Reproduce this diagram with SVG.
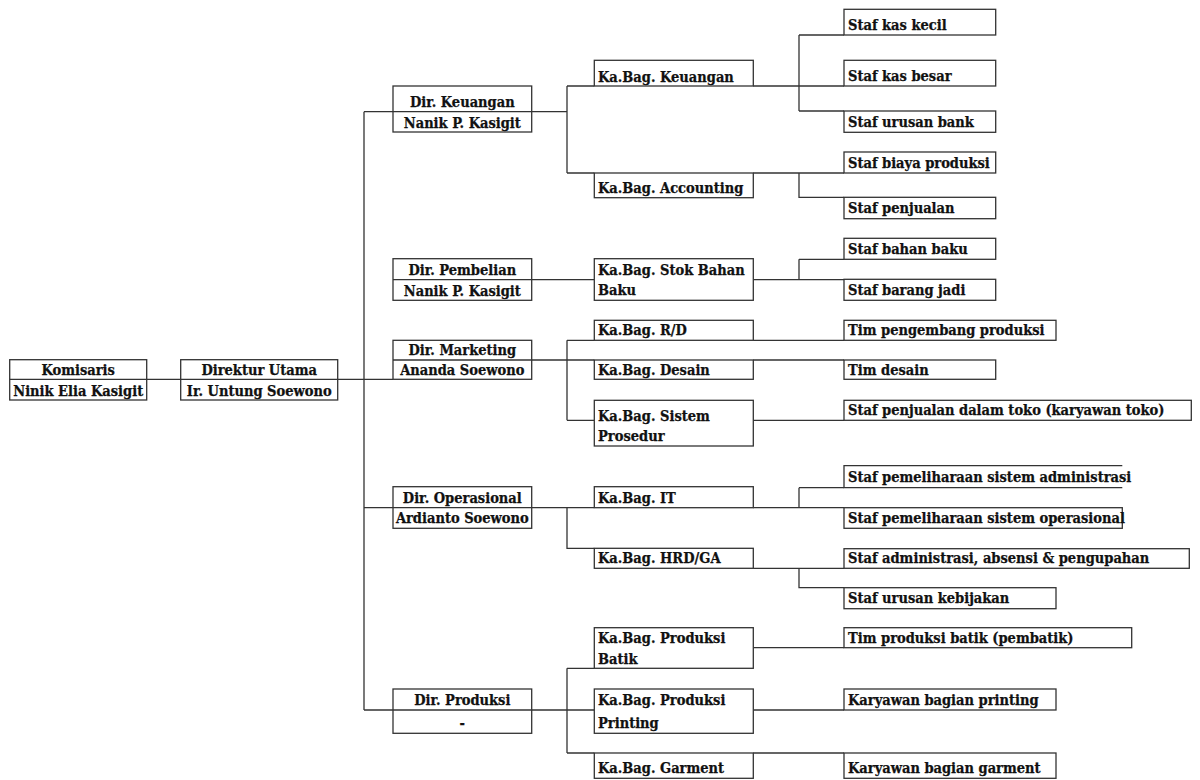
<svg xmlns="http://www.w3.org/2000/svg" width="1200" height="780" viewBox="0 0 1200 780">
<style>
.c{fill:none;stroke:#333;stroke-width:1.3}
.b{fill:#fff;stroke:#333;stroke-width:1.3}
.t{font-family:"DejaVu Serif Condensed","DejaVu Serif",serif;font-stretch:condensed;font-weight:bold;font-size:14.5px;fill:#111;stroke:#111;stroke-width:0.25}
.m{text-anchor:middle}
</style>
<rect width="1200" height="780" fill="#fff"/>
<g id="connectors" class="c">
<path d="M146.7 379.3H181M337.7 379.3H393M364 111.7V710"/>
<path d="M364 111.7H393M531.7 111.7H567M567 86V173M567 86H594.3M753.3 86H844M567 173H594.3M753.3 173H844"/>
<path d="M799 35V111M799 35H844M799 111H844M799 173V197.3H844"/>
<path d="M531.7 279.7H594.3M753.3 279.7H844M799 259.3V279.7M799 259.3H844"/>
<path d="M531.7 360H594.3M753.3 360H844M567 340.3V420.3M567 340.3H594.3M753.3 340.3H844M567 420.3H594.3M753.3 420.3H844"/>
<path d="M364 507.7H393M531.7 507.7H594.3M753.3 507.7H844M799 487.7V507.7M799 487.7H844M567 507.7V548.3H594.3M753.3 568.3H844M799 568.3V587.7H844"/>
<path d="M364 710H393M531.7 710H594.3M753.3 710H844M567 668.3V753M567 668.3H594.3M753.3 647.7H844M567 753H594.3M753.3 753H844"/>
</g>
<g id="komisaris"><rect class="b" x="9.7" y="359.7" width="137" height="40.3"/><path class="c" d="M9.7 379.3H146.7"/><text class="t m" x="78.2" y="375">Komisaris</text><text class="t m" x="78.2" y="395.7">Ninik Elia Kasigit</text></g>
<g id="direktur-utama"><rect class="b" x="180.7" y="359.7" width="157" height="40.3"/><path class="c" d="M180.7 379.3H337.7"/><text class="t m" x="259.2" y="375">Direktur Utama</text><text class="t m" x="259.2" y="395.7">Ir. Untung Soewono</text></g>
<g id="dir-keuangan"><rect class="b" x="393" y="86" width="138.7" height="46"/><path class="c" d="M393 111.7H531.7"/><text class="t m" x="462.3" y="106.7">Dir. Keuangan</text><text class="t m" x="462.3" y="127.7">Nanik P. Kasigit</text></g>
<g id="dir-pembelian"><rect class="b" x="393" y="258.7" width="138.7" height="41.6"/><path class="c" d="M393 279.7H531.7"/><text class="t m" x="462.3" y="275">Dir. Pembelian</text><text class="t m" x="462.3" y="296">Nanik P. Kasigit</text></g>
<g id="dir-marketing"><rect class="b" x="393" y="340.3" width="138.7" height="39"/><path class="c" d="M393 360H531.7"/><text class="t m" x="462.3" y="355">Dir. Marketing</text><text class="t m" x="462.3" y="375">Ananda Soewono</text></g>
<g id="dir-operasional"><rect class="b" x="393" y="486.7" width="138.7" height="41.6"/><path class="c" d="M393 507.7H531.7"/><text class="t m" x="462.3" y="503.3">Dir. Operasional</text><text class="t m" x="462.3" y="523.3">Ardianto Soewono</text></g>
<g id="dir-produksi"><rect class="b" x="393" y="689" width="138.7" height="44.3"/><path class="c" d="M393 710H531.7"/><text class="t m" x="462.3" y="705">Dir. Produksi</text><text class="t m" x="462.3" y="728.3">-</text></g>
<g id="kabag-keuangan"><rect class="b" x="594.3" y="60.3" width="159" height="25.7"/><text class="t" x="598" y="81.7">Ka.Bag. Keuangan</text></g>
<g id="kabag-accounting"><rect class="b" x="594.3" y="173" width="159" height="24.7"/><text class="t" x="598" y="193.3">Ka.Bag. Accounting</text></g>
<g id="kabag-stok"><rect class="b" x="594.3" y="258.7" width="159" height="41.6"/><text class="t" x="598" y="275">Ka.Bag. Stok Bahan</text><text class="t" x="598" y="295.3">Baku</text></g>
<g id="kabag-rd"><rect class="b" x="594.3" y="320.3" width="159" height="20"/><text class="t" x="598" y="335">Ka.Bag. R/D</text></g>
<g id="kabag-desain"><rect class="b" x="594.3" y="360" width="159" height="19.3"/><text class="t" x="598" y="375">Ka.Bag. Desain</text></g>
<g id="kabag-sistem"><rect class="b" x="594.3" y="400.3" width="159" height="45.7"/><text class="t" x="598" y="421">Ka.Bag. Sistem</text><text class="t" x="598" y="441">Prosedur</text></g>
<g id="kabag-it"><rect class="b" x="594.3" y="486.7" width="159" height="21"/><text class="t" x="598" y="503.3">Ka.Bag. IT</text></g>
<g id="kabag-hrd"><rect class="b" x="594.3" y="548.3" width="159" height="20"/><text class="t" x="598" y="562.7">Ka.Bag. HRD/GA</text></g>
<g id="kabag-batik"><rect class="b" x="594.3" y="627.7" width="159" height="40.6"/><text class="t" x="598" y="643.3">Ka.Bag. Produksi</text><text class="t" x="598" y="664.3">Batik</text></g>
<g id="kabag-printing"><rect class="b" x="594.3" y="689" width="159" height="44.3"/><text class="t" x="598" y="705">Ka.Bag. Produksi</text><text class="t" x="598" y="728.3">Printing</text></g>
<g id="kabag-garment"><rect class="b" x="594.3" y="753" width="159" height="25.3"/><text class="t" x="598" y="773.3">Ka.Bag. Garment</text></g>
<g id="staf-kas-kecil"><rect class="b" x="844" y="9.3" width="151.7" height="25.7"/><text class="t" x="848" y="30">Staf kas kecil</text></g>
<g id="staf-kas-besar"><rect class="b" x="844" y="60.3" width="151.7" height="25.7"/><text class="t" x="848" y="81">Staf kas besar</text></g>
<g id="staf-urusan-bank"><rect class="b" x="844" y="111" width="151.7" height="21.3"/><text class="t" x="848" y="127.3">Staf urusan bank</text></g>
<g id="staf-biaya-produksi"><rect class="b" x="844" y="152" width="151.7" height="21"/><text class="t" x="848" y="168.3">Staf biaya produksi</text></g>
<g id="staf-penjualan"><rect class="b" x="844" y="197.3" width="151.7" height="21.4"/><text class="t" x="848" y="213.3">Staf penjualan</text></g>
<g id="staf-bahan-baku"><rect class="b" x="844" y="238.3" width="151.7" height="21"/><text class="t" x="848" y="254.3">Staf bahan baku</text></g>
<g id="staf-barang-jadi"><rect class="b" x="844" y="279.3" width="151.7" height="21"/><text class="t" x="848" y="295.3">Staf barang jadi</text></g>
<g id="tim-pengembang"><rect class="b" x="844" y="320.3" width="212" height="20"/><text class="t" x="848" y="335">Tim pengembang produksi</text></g>
<g id="tim-desain"><rect class="b" x="844" y="360" width="151.7" height="19.3"/><text class="t" x="848" y="375">Tim desain</text></g>
<g id="staf-penjualan-toko"><rect class="b" x="844" y="400.3" width="347.3" height="20"/><text class="t" x="848" y="415">Staf penjualan dalam toko (karyawan toko)</text></g>
<g id="staf-pem-adm"><path class="b" d="M1122.3 465.7H844V487.7H1122.3"/><text class="t" x="848" y="481.7">Staf pemeliharaan sistem administrasi</text></g>
<g id="staf-pem-op"><rect class="b" x="844" y="507.7" width="278.3" height="20.6"/><text class="t" x="848" y="523.3">Staf pemeliharaan sistem operasional</text></g>
<g id="staf-adm-absensi"><rect class="b" x="844" y="548.7" width="345.3" height="19.6"/><text class="t" x="848" y="562.7">Staf administrasi, absensi &amp; pengupahan</text></g>
<g id="staf-kebijakan"><rect class="b" x="844" y="587.7" width="212" height="21"/><text class="t" x="848" y="602.7">Staf urusan kebijakan</text></g>
<g id="tim-batik"><rect class="b" x="844" y="627.7" width="287.7" height="20"/><text class="t" x="848" y="643.3">Tim produksi batik (pembatik)</text></g>
<g id="karyawan-printing"><rect class="b" x="844" y="689" width="212" height="21"/><text class="t" x="848" y="705">Karyawan bagian printing</text></g>
<g id="karyawan-garment"><rect class="b" x="844" y="753" width="212" height="25.3"/><text class="t" x="848" y="773.3">Karyawan bagian garment</text></g>
</svg>
